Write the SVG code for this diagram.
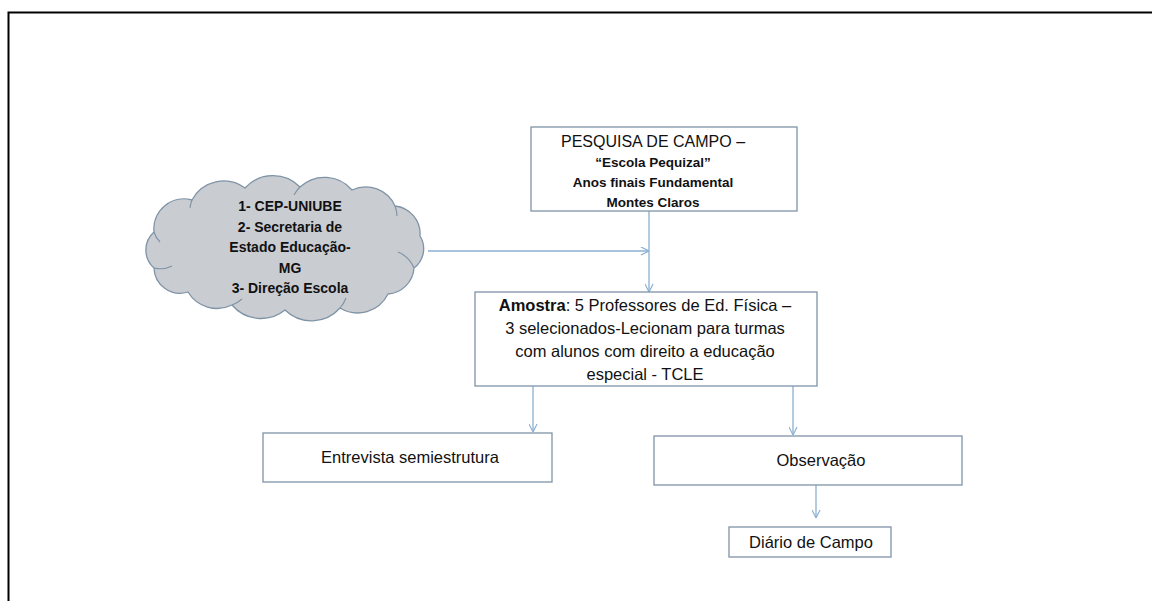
<svg xmlns="http://www.w3.org/2000/svg" width="1152" height="601" viewBox="0 0 1152 601">
<defs>
<style>
.box{fill:#ffffff;stroke:#7f93a6;stroke-width:1.3}
.con{fill:none;stroke:#8bafd2;stroke-width:1.3}
.t{font-family:"Liberation Sans",Arial,sans-serif;fill:#111111;text-anchor:middle}
.b{font-weight:bold}
</style>
<marker id="arr" viewBox="0 0 10 10" refX="10" refY="5" markerWidth="9" markerHeight="9" markerUnits="userSpaceOnUse" orient="auto">
<path d="M1,0.5 L10,5 L1,9.5" fill="none" stroke="#8bafd2" stroke-width="1.3"/>
</marker>
</defs>
<rect x="0" y="0" width="1152" height="601" fill="#ffffff"/>
<path d="M8.5,601 L8.5,12.5 L1152,12.5" fill="none" stroke="#000000" stroke-width="2"/>

<g id="connectors">
<line class="con" x1="649" y1="211" x2="649" y2="292" marker-end="url(#arr)"/>
<line class="con" x1="428" y1="251" x2="649" y2="251" marker-end="url(#arr)"/>
<line class="con" x1="533" y1="386" x2="533" y2="432" marker-end="url(#arr)"/>
<line class="con" x1="793" y1="386" x2="793" y2="435" marker-end="url(#arr)"/>
<line class="con" x1="816" y1="485" x2="816" y2="518" marker-end="url(#arr)"/>
</g>

<g id="cloud">
<path d="M154,232 A30,30 0 0 1 192,200 A36,36 0 0 1 245,188 A38,38 0 0 1 300,187 A36,36 0 0 1 352,190 A32,32 0 0 1 395,206 A28,28 0 0 1 420,236 A24,24 0 0 1 414,268 A28,28 0 0 1 388,294 A34,34 0 0 1 340,308 A38,38 0 0 1 285,310 A38,38 0 0 1 232,305 A34,34 0 0 1 188,292 A26,26 0 0 1 154,268 A24,24 0 0 1 154,232 Z" fill="#c9ccd1" stroke="#7f93a6" stroke-width="1.3"/>
<path d="M154,232 A24,24 0 0 0 160,242 M192,200 A30,30 0 0 0 190,208 M300,187 A30,30 0 0 0 294,195 M395,206 A30,30 0 0 1 397,216 M414,268 A30,30 0 0 0 398,252 M340,308 A32,32 0 0 0 346,298 M232,305 A30,30 0 0 0 242,299 M154,268 A26,26 0 0 0 172,266" fill="none" stroke="#7f93a6" stroke-width="1.1"/>
<text class="t b" x="290" y="211" font-size="14">1- CEP-UNIUBE</text>
<text class="t b" x="290" y="231.5" font-size="14">2- Secretaria de</text>
<text class="t b" x="290" y="252" font-size="14">Estado Educação-</text>
<text class="t b" x="290" y="272.5" font-size="14">MG</text>
<text class="t b" x="290" y="293" font-size="14">3- Direção Escola</text>
</g>

<g id="pesquisa">
<rect class="box" x="531" y="127" width="266" height="84"/>
<text class="t" x="653" y="147" font-size="16">PESQUISA DE CAMPO –</text>
<text class="t b" x="653" y="167" font-size="13.5">“Escola Pequizal”</text>
<text class="t b" x="653" y="187" font-size="13.5">Anos finais Fundamental</text>
<text class="t b" x="653" y="207" font-size="13.5">Montes Claros</text>
</g>

<g id="amostra">
<rect class="box" x="475" y="292" width="342" height="94"/>
<text class="t" x="645" y="311" font-size="16.5"><tspan class="b">Amostra</tspan>: 5 Professores de Ed. Física  –</text>
<text class="t" x="645" y="334" font-size="16.5">3 selecionados-Lecionam para turmas</text>
<text class="t" x="645" y="357" font-size="16.5">com alunos com direito a educação</text>
<text class="t" x="645" y="380" font-size="16.5">especial - TCLE</text>
</g>

<g id="entrevista">
<rect class="box" x="263" y="433" width="289" height="49"/>
<text class="t" x="410" y="463" font-size="16.5">Entrevista semiestrutura</text>
</g>

<g id="observacao">
<rect class="box" x="654" y="436" width="308" height="49"/>
<text class="t" x="821" y="466" font-size="16.5">Observação</text>
</g>

<g id="diario">
<rect class="box" x="729" y="527" width="162" height="30"/>
<text class="t" x="811" y="548" font-size="16.5">Diário de Campo</text>
</g>
</svg>
